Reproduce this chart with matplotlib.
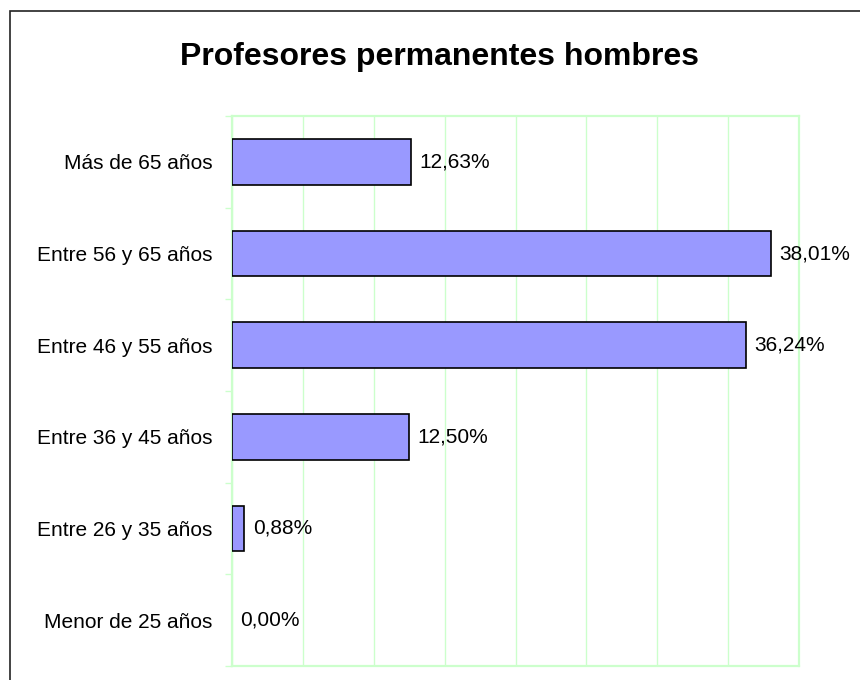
import matplotlib
matplotlib.use('Agg')
from matplotlib import pyplot as plt
from matplotlib.patches import Rectangle

# datos del grafico (de abajo hacia arriba)
categorias = ['Menor de 25 años', 'Entre 26 y 35 años', 'Entre 36 y 45 años',
              'Entre 46 y 55 años', 'Entre 56 y 65 años', 'Más de 65 años']
porcentajes = [0.00, 0.88, 12.50, 36.24, 38.01, 12.63]
titulo = 'Profesores permanentes hombres'

plt.rcParams['font.family'] = ['Liberation Sans', 'DejaVu Sans']

fig = plt.figure(figsize=(8.6, 6.8), dpi=100)
ax = fig.add_axes([232/860, 1-666/680, 567/860, 550/680])

pos = range(len(categorias))
# sin borde para las barras vacias
bordes = ['black' if v > 0 else 'none' for v in porcentajes]
barras = ax.barh(pos, porcentajes, height=0.5, color='#9999ff',
                 edgecolor=bordes, linewidth=1.2, zorder=3)

etiquetas = [('%.2f%%' % v).replace('.', ',') for v in porcentajes]
ax.bar_label(barras, labels=etiquetas, padding=6, fontsize=15)

ax.set_xlim(0, 40)
ax.set_ylim(-0.5, len(categorias) - 0.5)
ax.set_xticks(range(0, 41, 5))
ax.set_xticklabels([])
ax.tick_params(axis='x', length=0)
ax.grid(axis='x', color='#ccffcc', linewidth=1.0, zorder=0)

ax.set_yticks(list(pos))
ax.set_yticklabels(categorias, fontsize=15)
ax.set_yticks([i - 0.5 for i in range(len(categorias) + 1)], minor=True)
ax.tick_params(axis='y', which='major', length=0, pad=14)
ax.tick_params(axis='y', which='minor', length=5, color='#ccffcc', width=1.0)

for lado in ax.spines.values():
    lado.set_color('#ccffcc')
    lado.set_linewidth(1.6)

fig.text(440/860, 1-57/680, titulo, ha='center', va='center',
         fontsize=23, fontweight='bold')

# marco del grafico
fig.add_artist(Rectangle((9.5/860, -0.1), 1.0, 1.1 - 11.5/680,
                         transform=fig.transFigure, fill=False,
                         edgecolor='#222222', linewidth=1.2))

plt.savefig('out.png', dpi=100)
